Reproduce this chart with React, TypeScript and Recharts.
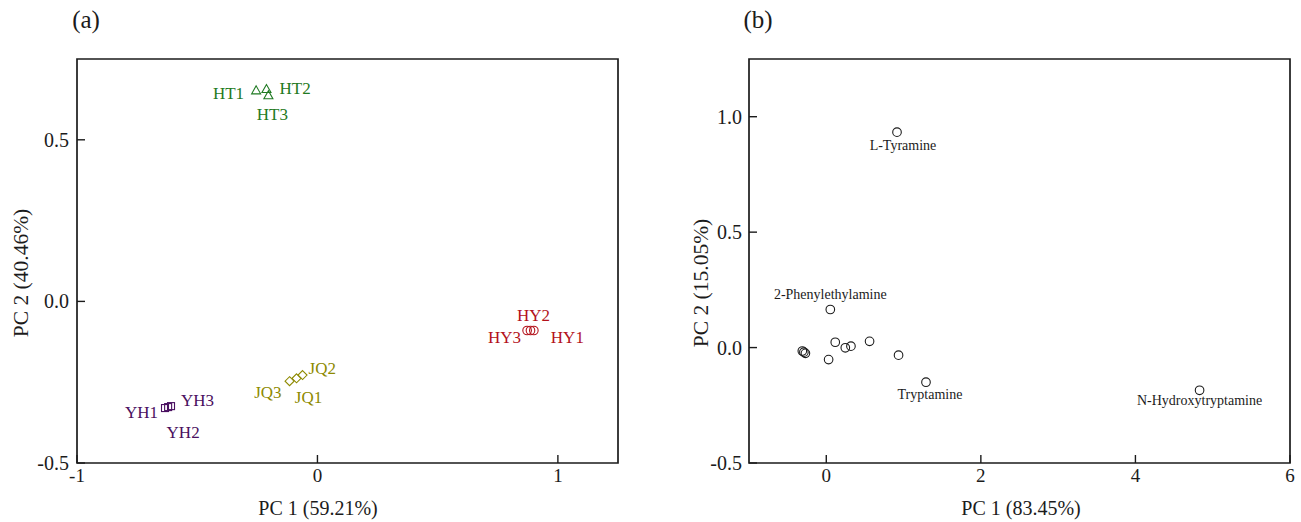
import { ScatterChart, Scatter, XAxis, YAxis, ReferenceArea, Label } from 'recharts'

const FONT = '"Liberation Serif", "Times New Roman", serif'
const INK = '#1b1b1b'

// (a) sample scores
const htNames = ['HT1', 'HT2', 'HT3']
const htX = [-0.255, -0.212, -0.204]
const htY = [0.653, 0.657, 0.638]

const yhNames = ['YH1', 'YH2', 'YH3']
const yhX = [-0.634, -0.621, -0.609]
const yhY = [-0.33, -0.327, -0.324]

const jqNames = ['JQ1', 'JQ2', 'JQ3']
const jqX = [-0.087, -0.062, -0.116]
const jqY = [-0.238, -0.228, -0.247]

const hyNames = ['HY1', 'HY2', 'HY3']
const hyX = [0.9, 0.886, 0.872]
const hyY = [-0.09, -0.09, -0.09]

// (b) amine loadings
const amineNames = [
  'L-Tyramine', '2-Phenylethylamine', '', '', '', '', '', '', '', '', '',
  'Tryptamine', 'N-Hydroxytryptamine',
]
const amineX = [0.915, 0.052, -0.31, -0.29, -0.27, 0.03, 0.116, 0.246, 0.319, 0.56, 0.935, 1.29, 4.83]
const amineY = [0.933, 0.165, -0.015, -0.02, -0.025, -0.052, 0.023, -0.001, 0.006, 0.027, -0.033, -0.15, -0.185]

const xTicksA = [-1, 0, 1]
const yTicksA = [-0.5, 0, 0.5]
const xTicksB = [0, 2, 4, 6]
const yTicksB = [-0.5, 0, 0.5, 1]

const toPoints = (names: string[], xs: number[], ys: number[]) =>
  xs.map((x, i) => ({ x, y: ys[i], name: names[i] }))

// where each point label sits relative to its marker
type Pos = { dx: number; dy: number; anchor: 'start' | 'middle' | 'end' }
const labelPos: Record<string, Pos> = {
  HT1: { dx: -12, dy: 9, anchor: 'end' },
  HT2: { dx: 13, dy: 5, anchor: 'start' },
  HT3: { dx: 4, dy: 25, anchor: 'middle' },
  YH1: { dx: -7, dy: 10, anchor: 'end' },
  YH2: { dx: 15, dy: 31, anchor: 'middle' },
  YH3: { dx: 10, dy: 0, anchor: 'start' },
  JQ1: { dx: 12, dy: 25, anchor: 'middle' },
  JQ2: { dx: 6, dy: -1, anchor: 'start' },
  JQ3: { dx: -8, dy: 17, anchor: 'end' },
  HY1: { dx: 17, dy: 13, anchor: 'start' },
  HY2: { dx: 3, dy: -9, anchor: 'middle' },
  HY3: { dx: -6, dy: 13, anchor: 'end' },
  'L-Tyramine': { dx: 6, dy: 18, anchor: 'middle' },
  '2-Phenylethylamine': { dx: 0, dy: -10, anchor: 'middle' },
  Tryptamine: { dx: 4, dy: 17, anchor: 'middle' },
  'N-Hydroxytryptamine': { dx: 0, dy: 15, anchor: 'middle' },
}

type Kind = 'triangle' | 'square' | 'diamond' | 'circle'

function marker(kind: Kind, color: string, fontSize: number) {
  return (props: any) => {
    const { cx, cy, payload } = props
    let glyph
    if (kind === 'triangle') {
      glyph = <polygon points={`${cx},${cy - 4.5} ${cx - 4.5},${cy + 3.5} ${cx + 4.5},${cy + 3.5}`} />
    } else if (kind === 'square') {
      glyph = <rect x={cx - 3.5} y={cy - 3.5} width={7} height={7} />
    } else if (kind === 'diamond') {
      glyph = <polygon points={`${cx},${cy - 4.5} ${cx + 4.5},${cy} ${cx},${cy + 4.5} ${cx - 4.5},${cy}`} />
    } else {
      glyph = <circle cx={cx} cy={cy} r={4.3} />
    }
    const p = labelPos[payload.name]
    return (
      <g>
        <g fill="none" stroke={color} strokeWidth={1.1}>{glyph}</g>
        {p && (
          <text x={cx + p.dx} y={cy + p.dy} textAnchor={p.anchor} fill={color}
            fontSize={fontSize} fontFamily={FONT}>
            {payload.name}
          </text>
        )}
      </g>
    )
  }
}

const fmtY = (v: number) => v.toFixed(1)
const fmtX = (v: number) => String(v)

function makeXTick(bottom: number) {
  return (props: any) => (
    <g>
      <line x1={props.x} x2={props.x} y1={bottom} y2={bottom - 8} stroke={INK} strokeWidth={1.4} />
      <text x={props.x} y={bottom + 19} textAnchor="middle" fontSize={19} fontFamily={FONT} fill={INK}>
        {fmtX(props.payload.value)}
      </text>
    </g>
  )
}

function makeYTick(left: number, gap: number) {
  return (props: any) => (
    <g>
      <line x1={left} x2={left + 8} y1={props.y} y2={props.y} stroke={INK} strokeWidth={1.4} />
      <text x={left - gap} y={props.y + 7} textAnchor="end" fontSize={20} fontFamily={FONT} fill={INK}>
        {fmtY(props.payload.value)}
      </text>
    </g>
  )
}

const titleText = (x: number, y: number, s: string, rotate = false, size = 20) => () => (
  <text x={x} y={y} textAnchor="middle" fontSize={size} fontFamily={FONT} fill={INK}
    transform={rotate ? `rotate(-90 ${x} ${y})` : undefined}>
    {s}
  </text>
)

export default function App() {
  return (
    <div style={{ position: 'absolute', left: 0, top: 0, width: 1301, height: 522, background: '#fff' }}>
      <div style={{ position: 'absolute', left: 0, top: 0 }}>
        <ScatterChart width={640} height={522} margin={{ top: 59, right: 22, bottom: 29, left: 0 }}>
          <XAxis type="number" dataKey="x" domain={[-1, 1.25]} ticks={xTicksA} allowDataOverflow
            height={30} axisLine={false} tickLine={false} tick={makeXTick(463)}>
            <Label content={titleText(318, 515, 'PC 1 (59.21%)')} />
          </XAxis>
          <YAxis type="number" dataKey="y" domain={[-0.5, 0.75]} ticks={yTicksA} allowDataOverflow
            width={77} axisLine={false} tickLine={false} tick={makeYTick(77, 8)}>
            <Label content={titleText(28, 273, 'PC 2 (40.46%)', true, 21.5)} />
            <Label content={titleText(86, 28, '(a)', false, 25)} />
          </YAxis>
          <ReferenceArea x1={-1} x2={1.25} y1={-0.5} y2={0.75} fill="none" stroke={INK} strokeWidth={1.7} />
          <Scatter data={toPoints(htNames, htX, htY)} shape={marker('triangle', '#1f7a22', 17)} isAnimationActive={false} />
          <Scatter data={toPoints(yhNames, yhX, yhY)} shape={marker('square', '#4a1060', 17)} isAnimationActive={false} />
          <Scatter data={toPoints(jqNames, jqX, jqY)} shape={marker('diamond', '#8e8a00', 17)} isAnimationActive={false} />
          <Scatter data={toPoints(hyNames, hyX, hyY)} shape={marker('circle', '#b3121b', 17)} isAnimationActive={false} />
        </ScatterChart>
      </div>
      <div style={{ position: 'absolute', left: 660, top: 0 }}>
        <ScatterChart width={641} height={522} margin={{ top: 59, right: 11, bottom: 29, left: 0 }}>
          <XAxis type="number" dataKey="x" domain={[-1, 6]} ticks={xTicksB} allowDataOverflow
            height={30} axisLine={false} tickLine={false} tick={makeXTick(463)}>
            <Label content={titleText(361, 515, 'PC 1 (83.45%)')} />
          </XAxis>
          <YAxis type="number" dataKey="y" domain={[-0.5, 1.25]} ticks={yTicksB} allowDataOverflow
            width={89} axisLine={false} tickLine={false} tick={makeYTick(89, 7)}>
            <Label content={titleText(48, 283, 'PC 2 (15.05%)', true, 21.5)} />
            <Label content={titleText(98, 28, '(b)', false, 25)} />
          </YAxis>
          <ReferenceArea x1={-1} x2={6} y1={-0.5} y2={1.25} fill="none" stroke={INK} strokeWidth={1.7} />
          <Scatter data={toPoints(amineNames, amineX, amineY)} shape={marker('circle', INK, 14)} isAnimationActive={false} />
        </ScatterChart>
      </div>
    </div>
  )
}
